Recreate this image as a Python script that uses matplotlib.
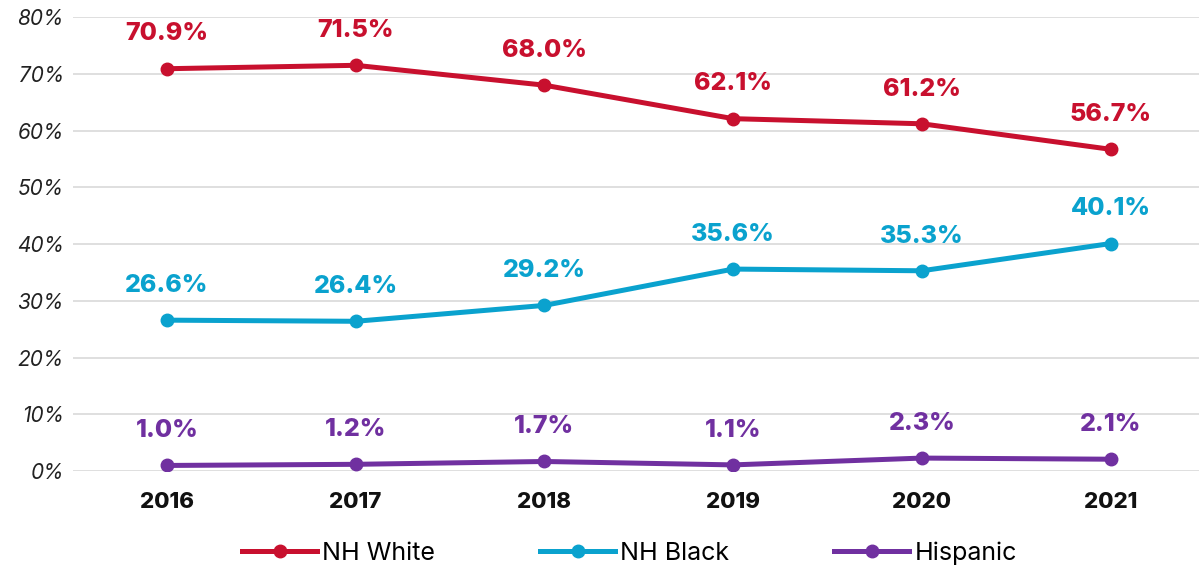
import matplotlib
matplotlib.use("Agg")
import matplotlib.pyplot as plt
import numpy as np

years = ["2016", "2017", "2018", "2019", "2020", "2021"]
nh_white = [70.9, 71.5, 68.0, 62.1, 61.2, 56.7]
nh_black = [26.6, 26.4, 29.2, 35.6, 35.3, 40.1]
hispanic = [1.0, 1.2, 1.7, 1.1, 2.3, 2.1]
series_names = ["NH White", "NH Black", "Hispanic"]
colors = ["#C8102E", "#0AA2CE", "#7030A0"]

plt.rcParams['font.family'] = ['Inter', 'DejaVu Sans']

fig = plt.figure(figsize=(11.99, 5.69), dpi=100)
ax = fig.add_axes([0.0605, 0.172, 0.9445, 0.798])

x = np.arange(len(years))
for vals, name, c in zip([nh_white, nh_black, hispanic], series_names, colors):
    ax.plot(x, vals, color=c, lw=3.6, marker="o", ms=9, label=name, zorder=3)
    for xi, v in zip(x, vals):
        ax.annotate(f"{v:.1f}%", (xi, v), xytext=(0, 25), textcoords="offset points",
                    ha="center", va="center", fontsize=18, fontweight=800, color=c)

ax.set_xlim(-0.5, 5.5)
ax.set_ylim(0, 80)
ax.set_yticks(range(0, 81, 10))
ax.set_yticklabels([f"{t}%" for t in range(0, 81, 10)], fontsize=15, fontstyle="italic", color="#222222")
ax.set_xticks(x)
ax.set_xticklabels(years, fontsize=16, fontweight=800, color="#111111")
ax.tick_params(axis="both", length=0)
ax.tick_params(axis="x", pad=15)
ax.tick_params(axis="y", pad=6)
ax.grid(axis="y", color="#D9D9D9", lw=1.2)
ax.set_axisbelow(True)
for s in ax.spines.values():
    s.set_visible(False)

fig.legend(loc="center", bbox_to_anchor=(0.525, 0.028), ncol=3, frameon=False,
           fontsize=18, handlelength=3, columnspacing=4.2, handletextpad=0.2)

fig.savefig("out.png", dpi=100)
